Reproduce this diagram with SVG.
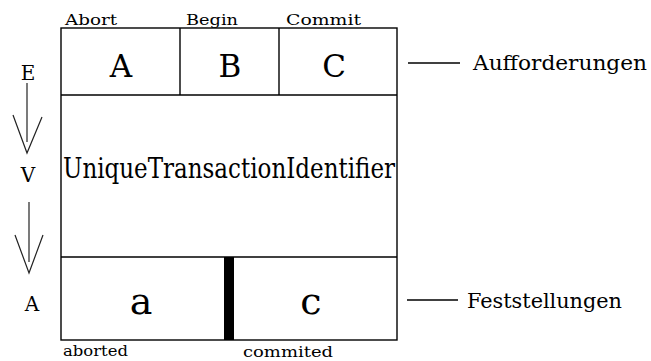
<svg xmlns="http://www.w3.org/2000/svg" width="651" height="361" viewBox="0 0 651 361">
<style>
text{font-family:"DejaVu Serif","Liberation Serif",serif;fill:#000}
.box{fill:#fff;stroke:#000;stroke-width:1.4}
.ln{stroke:#000;stroke-width:1.4;fill:none}
.arw{stroke:#222;stroke-width:1.2;fill:none}
.sm{font-size:14px}
.big{font-size:31px;text-anchor:middle}
.mid{font-size:21px}
.lw{font-size:38px;text-anchor:middle}
.side{font-size:20px;text-anchor:middle}
</style>
<rect width="651" height="361" fill="#fff"/>
<g id="table">
  <rect class="box" x="61" y="28" width="336" height="312"/>
</g>
<g id="cell-A">
  <line class="ln" x1="61" y1="95" x2="397" y2="95"/>
  <text class="big" x="121" y="77">A</text>
  <text class="sm" x="65" y="25" textLength="52" lengthAdjust="spacingAndGlyphs">Abort</text>
</g>
<g id="cell-B">
  <line class="ln" x1="180" y1="28" x2="180" y2="95"/>
  <text class="big" x="230" y="77">B</text>
  <text class="sm" x="186" y="25" textLength="52" lengthAdjust="spacingAndGlyphs">Begin</text>
</g>
<g id="cell-C">
  <line class="ln" x1="279" y1="28" x2="279" y2="95"/>
  <text class="big" x="334" y="77">C</text>
  <text class="sm" x="286" y="25" textLength="75" lengthAdjust="spacingAndGlyphs">Commit</text>
</g>
<g id="uti">
  <line class="ln" x1="61" y1="257" x2="397" y2="257"/>
  <text x="63" y="178" font-size="28" textLength="332" lengthAdjust="spacingAndGlyphs">UniqueTransactionIdentifier</text>
</g>
<g id="cell-a">
  <text class="lw" x="141" y="314">a</text>
  <text class="sm" x="63" y="356" textLength="65" lengthAdjust="spacingAndGlyphs">aborted</text>
</g>
<g id="cell-c">
  <rect x="224" y="257" width="10" height="83" fill="#000"/>
  <text class="lw" x="311" y="314">c</text>
  <text class="sm" x="243" y="357" textLength="90" lengthAdjust="spacingAndGlyphs">commited</text>
</g>
<g id="E"><text class="side" x="28" y="80">E</text></g>
<g id="V"><text class="side" x="28" y="182">V</text></g>
<g id="A"><text class="side" x="32" y="311">A</text></g>
<g id="aufforderungen"><text class="mid" x="473" y="70" textLength="174" lengthAdjust="spacingAndGlyphs">Aufforderungen</text></g>
<g id="feststellungen"><text class="mid" x="467" y="308" textLength="155" lengthAdjust="spacingAndGlyphs">Feststellungen</text></g>
<g id="connectors">
  <line class="arw" x1="27" y1="83" x2="27" y2="142"/>
  <polyline class="arw" points="13,115 27,153 42,117"/>
  <line class="arw" x1="29" y1="202" x2="29" y2="262"/>
  <polyline class="arw" points="15,235 29,273 43,235"/>
  <line class="ln" x1="408" y1="63" x2="460" y2="63"/>
  <line class="ln" x1="407" y1="300" x2="458" y2="300"/>
</g>
</svg>
